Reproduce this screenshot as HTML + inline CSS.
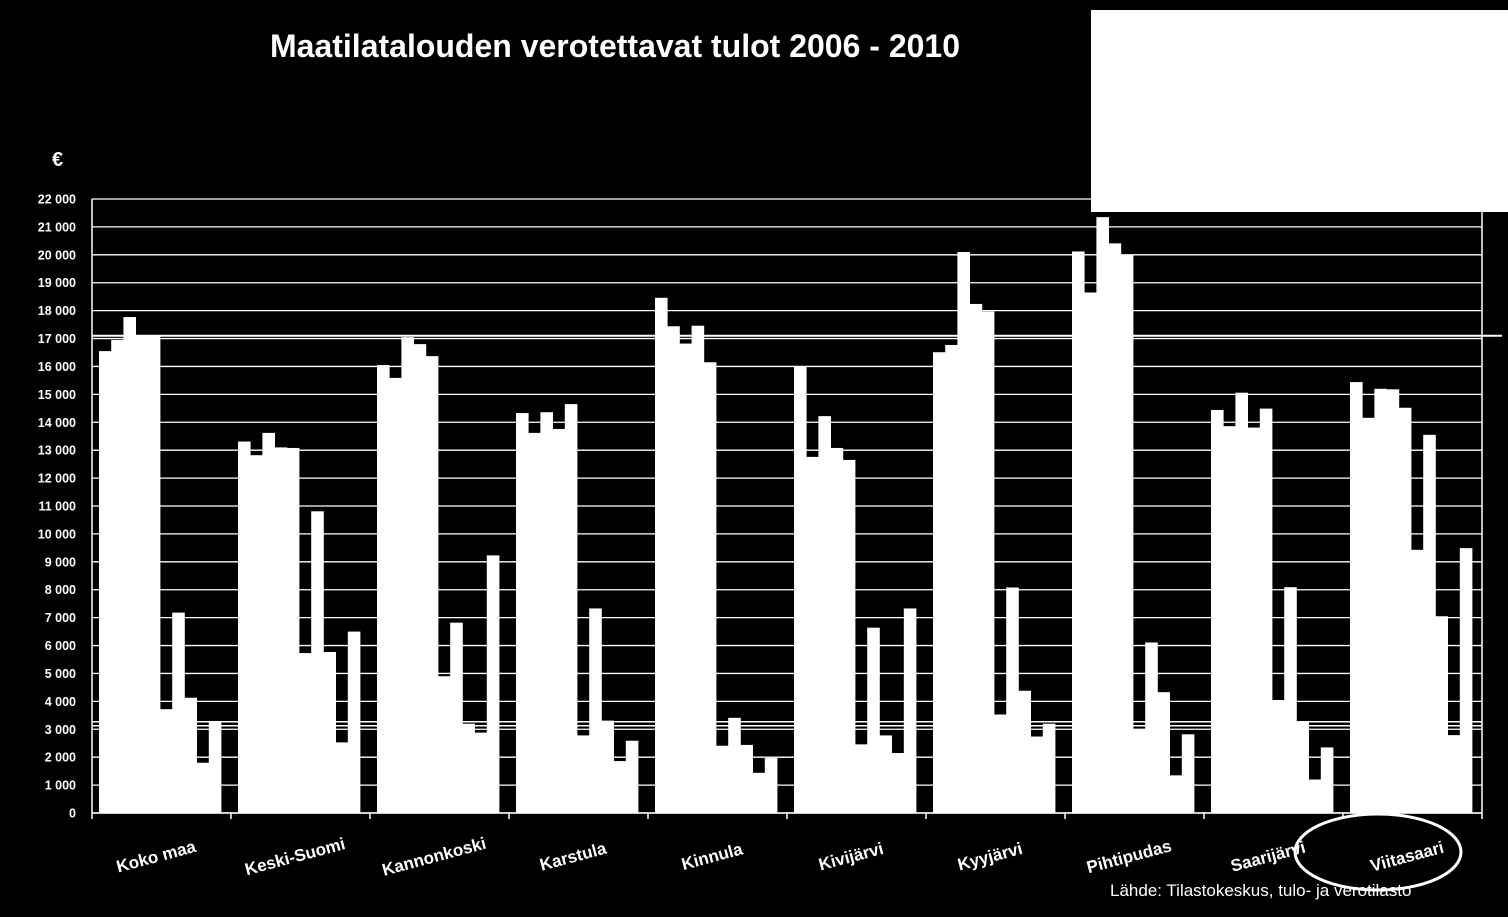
<!DOCTYPE html>
<html><head><meta charset="utf-8"><style>
body{margin:0;background:#000;}
svg{display:block;font-family:"Liberation Sans",Arial,sans-serif;}
</style></head><body>
<svg id="chart" width="1508" height="917" viewBox="0 0 1508 917" xmlns="http://www.w3.org/2000/svg">
<rect x="0" y="0" width="1508" height="917" fill="#000"/>
<text x="270" y="57" fill="#fff" font-size="32" font-weight="bold">Maatilatalouden verotettavat tulot 2006 - 2010</text>
<rect x="1091" y="10" width="417" height="202" fill="#fff"/>
<text x="52" y="166" fill="#fff" font-size="20" font-weight="bold">€</text>
<g id="grid"></g>
<g id="yticks"></g>
<g id="bars"></g>
<g id="refs"></g>
<g id="xlabels"></g>
<ellipse cx="1378" cy="852" rx="83" ry="38" fill="none" stroke="#fff" stroke-width="3"/>
<text x="1110" y="896" fill="#fff" font-size="17">Lähde: Tilastokeskus, tulo- ja verotilasto</text>
</svg>
<script>
const categories=["Koko maa","Keski-Suomi","Kannonkoski","Karstula","Kinnula","Kivijärvi","Kyyjärvi","Pihtipudas","Saarijärvi","Viitasaari"];
const seriesA=[[16550,16950,17770,17100,17100],[13310,12820,13620,13100,13080],[16050,15590,17050,16800,16370],[14330,13620,14360,13760,14650],[18460,17440,16820,17460,16150],[16010,12760,14220,13080,12650],[16510,16770,20100,18240,17970],[20120,18650,21350,20410,20000],[14440,13860,15060,13810,14490],[15440,14160,15200,15180,14520]];
const seriesB=[[3720,7180,4130,1800,3270],[5730,10810,5770,2530,6500],[4900,6820,3200,2880,9230],[2780,7330,3310,1860,2590],[2410,3410,2440,1440,1970],[2460,6640,2780,2150,7330],[3530,8080,4380,2740,3200],[2990,6110,4330,1350,2820],[4050,8090,3260,1200,2350],[9430,13550,7050,2790,9490]];
const yTicks=[0,1000,2000,3000,4000,5000,6000,7000,8000,9000,10000,11000,12000,13000,14000,15000,16000,17000,18000,19000,20000,21000,22000];
const refValues=[17100,3200];
const NS="http://www.w3.org/2000/svg";
const X0=92,X1=1482,Y0=813,YTOP=199,YMAX=22000;
const groupW=(X1-X0)/categories.length;
const barW=12.2,barOff=7;
function y(v){return Y0-(v/YMAX)*(Y0-YTOP);}
function gx(i){return X0+i*groupW;}
function mk(tag,attrs,parent){const e=document.createElementNS(NS,tag);for(const k in attrs)e.setAttribute(k,attrs[k]);parent.appendChild(e);return e;}
const grid=document.getElementById('grid'),yt=document.getElementById('yticks');
yTicks.forEach(t=>{
  const l=mk('line',{x1:X0,x2:X1,y1:y(t),y2:y(t),stroke:'#fff','stroke-width':1.3},grid);
  
  
  const tx=mk('text',{x:76,y:y(t)+4.5,fill:'#fff','font-size':12.5,'font-weight':'bold','text-anchor':'end'},yt);
  tx.textContent=t===0?'0':(Math.floor(t/1000)+' '+String(t%1000).padStart(3,'0'));
  
  
});
const ax=mk('line',{x1:X0,x2:X0,y1:YTOP,y2:Y0,stroke:'#fff','stroke-width':1.5},grid);


const ax2=mk('line',{x1:X1,x2:X1,y1:YTOP,y2:Y0,stroke:'#fff','stroke-width':1.5},grid);


const xa=mk('line',{x1:X0,x2:X1,y1:Y0,y2:Y0,stroke:'#fff','stroke-width':1.5},grid);


for(let i=0;i<=categories.length;i++){
  const tk=mk('line',{x1:gx(i),x2:gx(i),y1:Y0,y2:Y0+6,stroke:'#fff','stroke-width':1.5},grid);
  
  
}
const bars=document.getElementById('bars');
categories.forEach((c,i)=>{
  const vals=seriesA[i].concat(seriesB[i]);
  vals.forEach((v,j)=>{
    const bx=gx(i)+barOff+j*barW;
    const r=mk('rect',{x:bx,y:y(v),width:barW+0.4,height:Y0-y(v),fill:'#fff'},bars);
    
    
  });
});
const refs=document.getElementById('refs');
const r1=mk('line',{x1:X0,x2:1502,y1:y(refValues[0]),y2:y(refValues[0]),stroke:'#fff','stroke-width':2},refs);


[-2,2].forEach(d=>{
  const r2=mk('line',{x1:X0,x2:X1,y1:y(refValues[1])+d,y2:y(refValues[1])+d,stroke:'#fff','stroke-width':1.5},refs);
  
  
});
const xl=document.getElementById('xlabels');
categories.forEach((c,i)=>{
  const cx=gx(i)+groupW/2-4,cy=862;
  const t=mk('text',{x:cx,y:cy,fill:'#fff','font-size':17,'font-weight':'bold','text-anchor':'middle',transform:'rotate(-15 '+cx+' '+cy+')'},xl);
  t.textContent=c;
  
  
});
</script>
</body></html>
